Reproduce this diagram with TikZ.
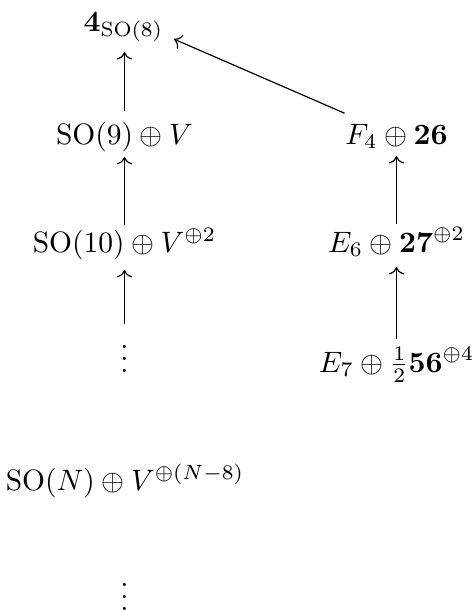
\documentclass[tikz,border=0pt]{standalone}
\usepackage{amsmath}
\usetikzlibrary{arrows.meta}
\begin{document}
\begin{tikzpicture}[x=0.339pt,y=-0.339pt,
  lab/.style={inner xsep=3.4pt, inner ysep=3.4pt, anchor=base},
  arr/.style={-{Computer Modern Rightarrow}, line width=0.4pt}]
\useasboundingbox (0,0) rectangle (472,610);
\node[lab] (top) at (123.5,31) {$\mathbf{4}_{\mathrm{SO}(8)}$};
\node[lab] (so9) at (124.5,144) {$\mathrm{SO}(9)\oplus V$};
\node[lab] (f4) at (396.5,144) {$F_4\oplus\mathbf{26}$};
\node[lab] (so10) at (124.5,252) {$\mathrm{SO}(10)\oplus V^{\oplus 2}$};
\node[lab] (e6) at (396.5,252) {$E_6\oplus\mathbf{27}^{\oplus 2}$};
\node[lab] (vd1) at (124.5,372) {$\vdots$};
\node[lab] (e7) at (396.5,372) {$E_7\oplus\tfrac{1}{2}\mathbf{56}^{\oplus 4}$};
\node[lab] (son) at (125,490) {$\mathrm{SO}(N)\oplus V^{\oplus(N-8)}$};
\node[lab] (vd2) at (124.5,610) {$\vdots$};
\draw[arr] (so9.north) -- (so9.north |- top.south);
\draw[arr, shorten <=-2.5pt, shorten >=-1.7pt] (so10.north) -- (so10.north |- so9.south);
\draw[arr, shorten <=-2.4pt] (vd1.north) -- (vd1.north |- so10.south);
\draw[arr, shorten <=-2.5pt, shorten >=-1pt] (e6.north) -- (e6.north |- f4.south);
\draw[arr, shorten <=-1pt] (e7.north) -- (e7.north |- e6.south);
\draw[arr] ([xshift=-17.6pt]f4.north) -- ([yshift=-4.2pt]top.east);
\end{tikzpicture}
\end{document}
